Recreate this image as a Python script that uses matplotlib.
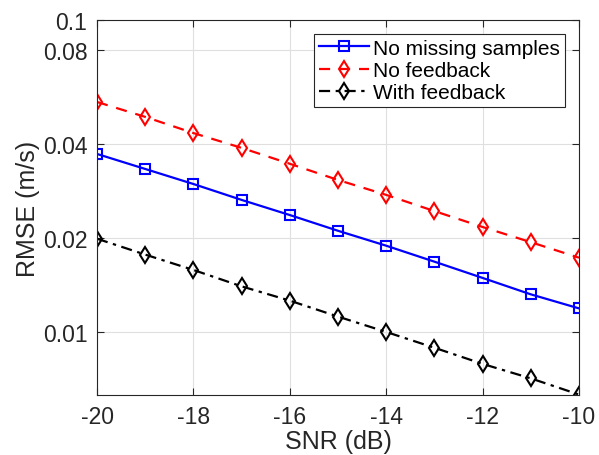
import matplotlib
matplotlib.use('Agg')
import matplotlib.pyplot as plt
from matplotlib.ticker import FixedLocator, FixedFormatter, NullLocator

# SNR axis and RMSE values
snr = [-20, -19, -18, -17, -16, -15, -14, -13, -12, -11, -10]
rmse_no_missing = [0.0372, 0.0333, 0.0298, 0.0265, 0.0237, 0.0211, 0.0189, 0.0168, 0.0149, 0.0132, 0.0119]
rmse_no_feedback = [0.0546, 0.0489, 0.0434, 0.0389, 0.0346, 0.0307, 0.0275, 0.0244, 0.0217, 0.0194, 0.0173]
rmse_with_feedback = [0.0199, 0.0177, 0.0158, 0.0140, 0.0126, 0.0112, 0.0100, 0.0089, 0.0079, 0.0071, 0.0063]

yticks = [0.01, 0.02, 0.04, 0.08, 0.1]
ytick_labels = ['0.01', '0.02', '0.04', '0.08', '0.1']
xticks = [-20, -18, -16, -14, -12, -10]

plt.rcParams['font.family'] = ['Liberation Sans', 'DejaVu Sans']

fig = plt.figure(figsize=(5.99, 4.56), dpi=100)
ax = fig.add_axes([0.162, 0.1316, 0.8046, 0.8224])

ax.plot(snr, rmse_no_missing, '-', color='#0000ff', lw=1.6, marker='s',
        ms=6.5, mfc='none', mew=1.5, label='No missing samples')
ax.plot(snr, rmse_no_feedback, '--', color='#ff0000', lw=1.6, marker='d',
        ms=8, mfc='none', mew=1.5, label='No feedback', dashes=(5, 4))
ax.plot(snr, rmse_with_feedback, '-.', color='black', lw=1.6, marker='d',
        ms=8, mfc='none', mew=1.5, label='With feedback', dashes=(5, 2.5, 1.5, 2.5))

ax.set_yscale('log')
ax.set_xlim(-20, -10)
ax.set_ylim(0.00628, 0.1)
ax.yaxis.set_major_locator(FixedLocator(yticks))
ax.yaxis.set_major_formatter(FixedFormatter(ytick_labels))
ax.yaxis.set_minor_locator(NullLocator())
ax.set_xticks(xticks)
ax.set_xticklabels([str(x) for x in xticks])

ax.grid(True, color='#dfdfdf', lw=0.8)
ax.set_axisbelow(True)
ax.tick_params(direction='in', top=True, right=True, labelsize=16.5,
               colors='#262626', length=5, width=0.8, pad=7)
for s in ax.spines.values():
    s.set_color('#262626')
    s.set_linewidth(0.8)

ax.set_xlabel('SNR (dB)', fontsize=18, color='#262626', labelpad=1)
ax.set_ylabel('RMSE (m/s)', fontsize=18, color='#262626', labelpad=2)

leg = ax.legend(loc='upper right', fontsize=15, fancybox=False, framealpha=1,
                edgecolor='#262626', borderpad=0.25, labelspacing=0.15,
                handlelength=2.4, handletextpad=0.2, borderaxespad=0.65)
leg.get_frame().set_linewidth(0.8)

fig.savefig('out.png', dpi=100)
